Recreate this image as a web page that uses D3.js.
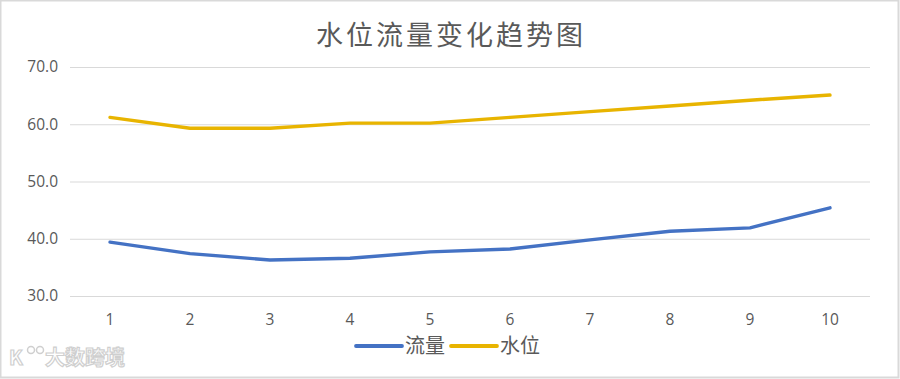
<!DOCTYPE html>
<html><head><meta charset="utf-8">
<script src="https://cdn.jsdelivr.net/npm/d3@7"></script>
<style>body{margin:0;background:#fff}svg{display:block}</style>
</head><body>
<svg id="c" width="900" height="379"></svg>
<script>
const categories = ["1","2","3","4","5","6","7","8","9","10"];
const flowValues = [39.4, 37.4, 36.3, 36.6, 37.7, 38.2, 39.8, 41.3, 41.9, 45.4];
const levelValues = [61.2, 59.3, 59.3, 60.2, 60.2, 61.2, 62.2, 63.2, 64.2, 65.1];
const yTicks = [30, 40, 50, 60, 70];
const seriesNames = ["流量", "水位"];
const seriesColors = ["#4472C4", "#E8B400"];

const svg = d3.select("#c");
const font = "'Microsoft YaHei','Noto Sans CJK SC','DejaVu Sans',sans-serif";
const numFont = "'Segoe UI','Open Sans','DejaVu Sans',sans-serif";
svg.append("rect").attr("x",0.5).attr("y",0.5).attr("width",898).attr("height",377)
  .attr("fill","#fff").attr("stroke","#d9d9d9").attr("stroke-width",2);

const x = d3.scaleBand().domain(categories).range([70, 870]);
const y = d3.scaleLinear().domain([30, 70]).range([296, 67]);

svg.append("text").attr("x",451).attr("y",45).attr("text-anchor","middle")
  .attr("font-family",font).attr("font-size",27).attr("letter-spacing",3).attr("fill","#595959").text("水位流量变化趋势图");

const gy = svg.append("g").attr("transform","translate(870,0)")
  .call(d3.axisLeft(y).tickValues(yTicks).tickSize(800).tickFormat(d3.format(".1f")));
gy.select(".domain").remove();
gy.selectAll(".tick line").attr("stroke","#d9d9d9").attr("stroke-width",1.2);
gy.selectAll(".tick text").attr("x",-812).attr("font-family",numFont)
  .attr("font-size",15.5).attr("fill","#595959");

const gx = svg.append("g").attr("transform","translate(0,296)")
  .call(d3.axisBottom(x).tickSize(0).tickPadding(18));
gx.select(".domain").remove();
gx.selectAll(".tick text").attr("font-family",numFont)
  .attr("font-size",15.5).attr("fill","#595959");

const line = d3.line().x((d,i)=>x(categories[i])+x.bandwidth()/2).y(d=>y(d));
[flowValues, levelValues].forEach((vals,k)=>{
  svg.append("path").datum(vals).attr("d",line).attr("fill","none")
    .attr("stroke",seriesColors[k]).attr("stroke-width",3.4)
    .attr("stroke-linejoin","round").attr("stroke-linecap","round");
});

const leg = [{x:356},{x:451}];
seriesNames.forEach((n,k)=>{
  const g = svg.append("g").attr("transform",`translate(${leg[k].x},346)`);
  g.append("line").attr("x1",0).attr("x2",46).attr("stroke",seriesColors[k]).attr("stroke-width",3.8).attr("stroke-linecap","round");
  g.append("text").attr("x",49).attr("y",7).attr("font-family",font).attr("font-size",20).attr("fill","#595959").text(n);
});

// watermark
const wm = svg.append("g").attr("transform","translate(9,365)");
wm.append("text").attr("x",0).attr("y",0).attr("font-family",font).attr("font-size",20).attr("font-weight","bold")
  .attr("fill","#fff").attr("stroke","#cfcfcf").attr("stroke-width",1.2).text("K");
wm.append("circle").attr("cx",22).attr("cy",-15).attr("r",3.5).attr("fill","none").attr("stroke","#cfcfcf").attr("stroke-width",1.5);
wm.append("circle").attr("cx",31).attr("cy",-15).attr("r",3.5).attr("fill","none").attr("stroke","#cfcfcf").attr("stroke-width",1.5);
wm.append("text").attr("x",36).attr("y",0).attr("font-family",font).attr("font-size",20).attr("font-weight","bold")
  .attr("fill","#fff").attr("stroke","#cfcfcf").attr("stroke-width",1.2).text("大数跨境");
</script>
</body></html>
